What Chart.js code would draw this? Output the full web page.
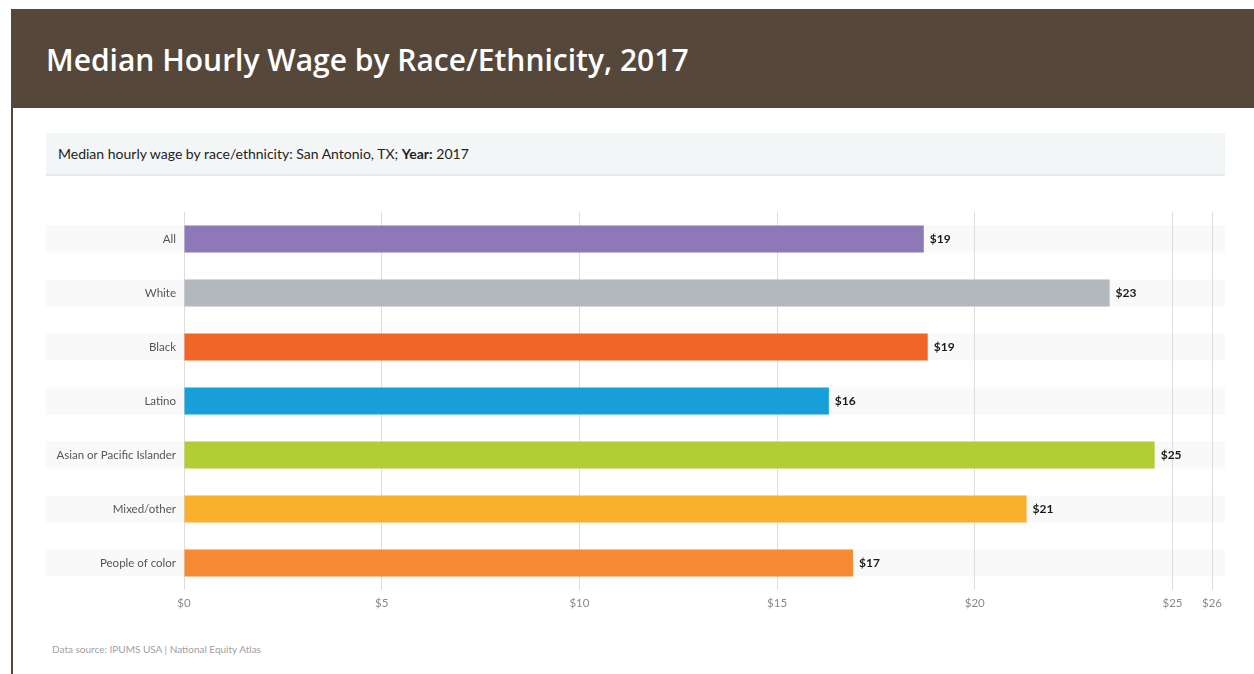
<!DOCTYPE html>
<html>
<head>
<meta charset="utf-8">
<script src="https://cdn.jsdelivr.net/npm/chart.js@4/dist/chart.umd.min.js"></script>
<style>
  body { margin: 0; width: 1254px; height: 674px; background: #fff; position: relative; overflow: hidden; font-family: Lato, sans-serif; }
  #header { position: absolute; left: 11px; top: 9px; width: 1243px; height: 99px; background: #55483b; }
  #header h1 { margin: 0; position: absolute; left: 35px; top: 31px; font-family: "Open Sans", sans-serif; font-weight: 600; font-size: 30px; color: #fff; line-height: 40px; }
  #leftBar { position: absolute; left: 11px; top: 108px; width: 2px; height: 566px; background: #55483b; }
  #subtitle { position: absolute; left: 46px; top: 133px; width: 1179px; height: 41px; background: #f3f6f7; border-bottom: 2px solid #e7eaed; }
  #subtitle span { position: absolute; left: 12px; top: 12px; font-size: 14px; color: #222; }
  #chartBox { position: absolute; left: 46px; top: 200px; width: 1179px; height: 420px; }
  #source { position: absolute; left: 52px; top: 643px; font-size: 10px; color: #a0a0a0; }
</style>
</head>
<body>
<div id="header"><h1>Median Hourly Wage by Race/Ethnicity, 2017</h1></div>
<div id="leftBar"></div>
<div id="subtitle"><span>Median hourly wage by race/ethnicity: San Antonio, TX; <b>Year:</b> 2017</span></div>
<div id="chartBox"><canvas id="wageChart"></canvas></div>
<div id="source">Data source: IPUMS USA | National Equity Atlas</div>

<script>
// Data
const categories = ['All', 'White', 'Black', 'Latino', 'Asian or Pacific Islander', 'Mixed/other', 'People of color'];
const wages = [18.71, 23.41, 18.81, 16.31, 24.55, 21.31, 16.92];
const barColors = ['#8e78b5', '#b3b7be', '#f26529', '#189fda', '#b3cd34', '#fbb02d', '#f58a33'];
const xTicks = [0, 5, 10, 15, 20, 25, 26];

// Light row bands behind every bar, full width of the panel
const rowBands = {
    id: 'rowBands',
    beforeDraw(chart) {
        const ctx = chart.ctx;
        const meta = chart.getDatasetMeta(0);
        ctx.save();
        ctx.fillStyle = '#f9f9f9';
        meta.data.forEach(bar => {
            ctx.fillRect(0, bar.y - bar.height / 2, chart.width, bar.height);
        });
        ctx.restore();
    }
};

// "$19" style labels at the end of each bar
const valueLabels = {
    id: 'valueLabels',
    afterDatasetsDraw(chart) {
        const ctx = chart.ctx;
        const meta = chart.getDatasetMeta(0);
        ctx.save();
        ctx.font = 'bold 12px Lato, sans-serif';
        ctx.fillStyle = '#1a1a1a';
        ctx.textBaseline = 'middle';
        meta.data.forEach((bar, i) => {
            ctx.fillText('$' + Math.round(wages[i]), bar.x + 6, bar.y);
        });
        ctx.restore();
    }
};

new Chart(document.getElementById('wageChart'), {
    type: 'bar',
    data: {
        labels: categories,
        datasets: [{
            data: wages,
            backgroundColor: barColors,
            borderWidth: 0,
            categoryPercentage: 1,
            barPercentage: 0.5
        }]
    },
    options: {
        indexAxis: 'y',
        responsive: true,
        maintainAspectRatio: false,
        animation: false,
        layout: { padding: { top: 12, right: 13, bottom: 0, left: 0 } },
        plugins: {
            legend: { display: false },
            tooltip: { enabled: false }
        },
        scales: {
            x: {
                min: 0,
                max: 26,
                afterBuildTicks: axis => { axis.ticks = xTicks.map(v => ({ value: v })); },
                afterFit: axis => {
                    axis.height = 30;
                    axis.paddingLeft = 0;
                    axis.paddingRight = 0;
                },
                grid: { color: '#dddddd', drawTicks: false },
                border: { display: false },
                ticks: {
                    padding: 6,
                    color: '#8a8a8a',
                    font: { family: 'Lato', size: 11.5 },
                    callback: v => '$' + v
                }
            },
            y: {
                afterFit: axis => {
                    axis.width = 138;
                    axis.paddingTop = 0;
                    axis.paddingBottom = 0;
                },
                grid: { display: false, drawTicks: false },
                border: { display: false },
                ticks: {
                    padding: 8,
                    color: '#555555',
                    font: { family: 'Lato', size: 11.5 }
                }
            }
        }
    },
    plugins: [rowBands, valueLabels]
});
</script>
</body>
</html>
